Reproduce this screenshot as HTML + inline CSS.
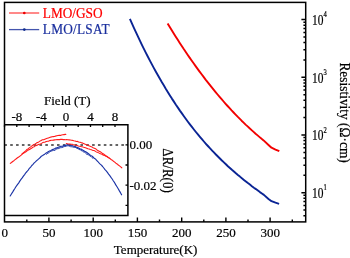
<!DOCTYPE html>
<html><head><meta charset="utf-8"><style>
html,body{margin:0;padding:0;background:#fff;width:350px;height:258px;overflow:hidden;font-family:"Liberation Serif",serif;}
svg{display:block;will-change:transform}
</style></head><body>
<svg width="350" height="258" viewBox="0 0 350 258"><path d="M167.6,23.5 169.6,26.8 171.6,30.1 173.6,33.3 175.6,36.4 177.6,39.6 179.6,42.7 181.6,45.7 183.6,48.8 185.6,51.7 187.6,54.7 189.6,57.6 191.6,60.5 193.6,63.3 195.6,66.1 197.6,68.9 199.6,71.6 201.6,74.3 203.6,76.9 205.6,79.6 207.6,82.1 209.6,84.7 211.6,87.2 213.6,89.7 215.6,92.1 217.6,94.5 219.6,96.9 221.6,99.2 223.6,101.5 225.6,103.8 227.6,106.0 229.6,108.2 231.6,110.4 233.6,112.5 235.6,114.6 237.6,116.7 239.6,118.7 241.6,120.7 243.6,122.6 245.6,124.6 247.6,126.4 249.6,128.3 251.6,130.1 253.6,131.9 255.6,133.7 257.6,135.4 259.6,137.1 261.6,138.8 263.6,140.4 268.5,145.0 271.5,147.7 275.5,149.6 279.3,151.2" fill="none" stroke="#f20000" stroke-width="1.9" stroke-linejoin="round" stroke-linecap="butt"/>
<path d="M129.9,18.8 131.9,23.3 133.9,27.8 135.9,32.1 137.9,36.4 139.9,40.6 141.9,44.8 143.9,48.8 145.9,52.8 147.9,56.7 149.9,60.6 151.9,64.4 153.9,68.1 155.9,71.7 157.9,75.3 159.9,78.8 161.9,82.3 163.9,85.6 165.9,89.0 167.9,92.2 169.9,95.4 171.9,98.6 173.9,101.6 175.9,104.7 177.9,107.6 179.9,110.6 181.9,113.4 183.9,116.2 185.9,119.0 187.9,121.7 189.9,124.3 191.9,126.9 193.9,129.5 195.9,132.0 197.9,134.4 199.9,136.8 201.9,139.2 203.9,141.5 205.9,143.8 207.9,146.0 209.9,148.2 211.9,150.3 213.9,152.4 215.9,154.5 217.9,156.5 219.9,158.5 221.9,160.5 223.9,162.4 225.9,164.3 227.9,166.2 229.9,168.0 231.9,169.8 233.9,171.5 235.9,173.3 237.9,175.0 239.9,176.6 241.9,178.3 243.9,179.9 245.9,181.5 247.9,183.1 249.9,184.6 251.9,186.2 253.9,187.7 255.9,189.1 257.9,190.6 259.9,192.1 261.9,193.5 263.9,194.9 268.5,199.0 271.5,201.2 275.5,202.7 279.1,203.8" fill="none" stroke="#0a2494" stroke-width="1.9" stroke-linejoin="round" stroke-linecap="butt"/>
<line x1="4.5" y1="144.9" x2="127.9" y2="144.9" stroke="#333" stroke-width="1.5" stroke-dasharray="2.6 3.25" stroke-dashoffset="-5.7"/>
<path d="M10.2,196.0 11.4,194.0 12.6,192.1 13.8,190.1 15.0,188.3 16.2,186.3 17.4,184.7 18.6,183.1 19.8,181.1 21.0,179.4 22.2,177.9 23.4,176.2 24.6,174.6 25.8,172.8 27.0,171.5 28.2,170.1 29.4,168.3 30.6,167.1 31.8,165.5 33.0,164.3 34.2,162.9 35.4,161.9 36.6,160.6 37.8,159.7 39.0,158.6 40.2,157.5 41.4,156.2 42.6,155.5 43.8,154.7 45.0,153.9 46.2,152.9 47.4,152.3 48.6,151.5 49.8,150.9 51.0,150.5 52.2,149.6 53.4,149.2 54.6,148.8 55.8,148.1 57.0,147.7 58.2,147.3 59.4,146.9 60.6,146.3 61.8,146.2 63.0,146.1 64.2,145.3 65.4,145.4 66.6,145.0 67.8,144.4 69.0,145.1 70.2,145.2 71.4,145.2 72.6,145.8 73.8,146.2 75.0,146.5 76.2,147.1 77.4,147.5 78.6,148.1 79.8,148.8 81.0,149.1 82.2,149.8 83.4,150.4 84.6,151.2 85.8,151.7 87.0,152.6 88.2,153.4 89.4,154.5 90.6,155.4 91.8,156.0 93.0,157.0 94.2,158.3 95.4,158.9 96.6,160.3 97.8,161.5 99.0,162.9 100.2,164.1 101.4,165.2 102.6,166.5 103.8,168.0 105.0,169.7 106.2,170.9 107.4,172.4 108.6,174.1 109.8,175.7 111.0,177.4 112.2,179.0 113.4,181.0 114.6,182.7 115.8,184.9 117.0,186.8 118.2,188.7 119.4,190.9 120.6,192.9 121.6,194.8" fill="none" stroke="#1b34a6" stroke-width="1.15" stroke-linejoin="round" stroke-linecap="round"/>
<path d="M46.0,154.5 47.0,153.9 48.0,153.1 49.0,152.8 50.0,151.8 51.0,151.1 52.0,151.0 53.0,150.4 54.0,150.3 55.0,150.6 56.0,149.1 57.0,148.8 58.0,148.7 59.0,148.5 60.0,147.9 61.0,147.6 62.0,147.7 63.0,147.3 64.0,146.5 65.0,146.6 66.0,146.4 67.0,145.8 68.0,145.9 69.0,145.8 70.0,146.7 71.0,146.7 72.0,146.9 73.0,147.0 74.0,147.5 75.0,147.2 76.0,147.8 77.0,148.8 78.0,148.3 79.0,149.8 80.0,149.4 81.0,150.7 82.0,150.7 83.0,151.8 84.0,152.1 85.0,152.2 86.0,153.8 87.0,154.5 88.0,154.6 89.0,155.3 90.0,156.0 91.0,156.7 92.0,157.7 93.0,158.4" fill="none" stroke="#1b34a6" stroke-width="0.9" stroke-linejoin="round" opacity="0.9"/>
<path d="M52.0,150.3 53.0,149.8 54.0,149.3 55.0,148.8 56.0,148.9 57.0,148.2 58.0,148.3 59.0,147.5 60.0,146.9 61.0,146.8 62.0,146.4 63.0,146.4 64.0,145.9 65.0,145.7 66.0,145.1 67.0,145.1 68.0,145.7 69.0,145.0 70.0,145.1 71.0,145.9 72.0,146.6 73.0,145.8 74.0,146.6 75.0,146.8 76.0,146.7 77.0,148.1 78.0,148.2 79.0,148.7 80.0,148.9 81.0,149.8 82.0,150.0 83.0,150.7 84.0,151.0 85.0,151.6 86.0,152.7 87.0,153.1 88.0,153.8" fill="none" stroke="#1b34a6" stroke-width="0.7" stroke-linejoin="round" opacity="0.6"/>
<path d="M10.3,163.4 11.5,162.5 12.7,161.5 13.9,160.7 15.1,159.6 16.3,158.7 17.5,157.8 18.7,157.0 19.9,156.1 21.1,155.2 22.3,154.2 23.5,153.2 24.7,152.6 25.9,151.8 27.1,150.9 28.3,150.1 29.5,149.4 30.7,148.7 31.9,148.0 33.1,147.1 34.3,146.7 35.5,145.7 36.7,145.4 37.9,144.8 39.1,144.3 40.3,143.9 41.5,143.4 42.7,142.6 43.9,142.2 45.1,142.1 46.3,141.5 47.5,141.3 48.7,141.1 49.9,140.6 51.1,140.3 52.3,140.3 53.5,140.1 54.7,139.9 55.9,139.8 57.1,139.6 58.3,139.5 59.5,139.6 60.7,139.4 61.9,139.3 63.1,139.6 64.3,139.6 65.5,139.7 66.7,139.6 67.9,139.8 69.1,139.9 70.3,140.0 71.5,140.3 72.7,140.4 73.9,140.8 75.1,141.0 76.3,141.5 77.5,141.4 78.7,142.0 79.9,142.2 81.1,142.6 82.3,142.9 83.5,143.4 84.7,144.0 85.9,144.4 87.1,144.9 88.3,145.4 89.5,146.1 90.7,146.5 91.9,146.9 93.1,147.7 94.3,148.2 95.5,148.7 96.7,149.7 97.9,150.6 99.1,151.2 100.3,151.8 101.5,152.6 102.7,153.6 103.9,154.3 105.1,155.1 106.3,156.0 107.5,156.8 108.7,157.8 109.9,158.6 111.1,159.5 112.3,160.2 113.5,161.3 114.7,162.1 115.9,163.2 117.1,163.9 118.3,165.0 119.5,165.9 120.7,166.9 121.8,167.8" fill="none" stroke="#ff1a1a" stroke-width="1.1" stroke-linejoin="round" stroke-linecap="round"/>
<path d="M22.0,153.9 23.2,152.8 24.4,151.8 25.6,150.8 26.8,149.6 28.0,148.9 29.2,147.9 30.4,147.1 31.6,146.1 32.8,145.3 34.0,144.5 35.2,144.0 36.4,143.1 37.6,142.4 38.8,141.9 40.0,141.1 41.2,140.5 42.4,139.8 43.6,139.7 44.8,139.2 46.0,138.7 47.2,138.3 48.4,137.9 49.6,137.5 50.8,137.1 52.0,136.8 53.2,136.6 54.4,136.5 55.6,136.1 56.8,135.8 58.0,135.5 59.2,135.3 60.4,135.4 61.6,135.0 62.8,134.8 64.0,134.6 65.2,134.4 65.8,134.4" fill="none" stroke="#ff1a1a" stroke-width="1.1" stroke-linejoin="round" stroke-linecap="round"/>
<path d="M66.3,143.6 67.5,143.8 68.7,143.9 69.9,144.1 71.1,144.3 72.3,144.3 73.5,144.7 74.7,144.9 75.9,145.3 77.1,145.4 78.3,145.9 79.5,146.3 80.7,146.4 81.9,146.7 83.1,147.1 84.3,147.4 85.5,147.7 86.7,148.2 87.9,148.8 89.1,149.0 90.3,149.4 91.5,149.7 92.7,150.4 93.9,150.6 95.1,151.1 96.3,151.9 97.5,152.2 98.7,152.9 99.9,153.5 101.1,153.9 102.3,154.5 103.5,155.3 104.7,155.6 105.9,156.2 107.1,156.8 108.3,157.5 109.5,158.1 110.0,158.4" fill="none" stroke="#ff1a1a" stroke-width="1.05" stroke-linejoin="round" stroke-linecap="round"/>
<path d="M4.5,124.7 H127.9 V215.4 H4.5" fill="none" stroke="#000" stroke-width="1.5"/>
<path d="M4.5,124.7V127.1M16.8,124.7V127.1M29.1,124.7V127.1M41.3,124.7V127.1M53.6,124.7V127.1M65.9,124.7V127.1M78.2,124.7V127.1M90.5,124.7V127.1M102.7,124.7V127.1M115.0,124.7V127.1M127.9,144.8H125.5M127.9,165.0H125.5M127.9,185.2H125.5M127.9,205.4H125.5" stroke="#000" stroke-width="1.3"/>
<rect x="4.5" y="2.4" width="301.2" height="219.5" fill="none" stroke="#000" stroke-width="1.5"/>
<path d="M26.8,221.9V219.6M48.9,221.9V217.6M71.1,221.9V219.6M93.2,221.9V217.6M115.3,221.9V219.6M137.4,221.9V217.6M159.5,221.9V219.6M181.7,221.9V217.6M203.8,221.9V219.6M225.9,221.9V217.6M248.0,221.9V219.6M270.1,221.9V217.6M292.3,221.9V219.6" stroke="#000" stroke-width="1.4"/>
<path d="M305.7,215.7H303.4M305.7,210.1H303.4M305.7,205.5H303.4M305.7,201.6H303.4M305.7,198.3H303.4M305.7,195.3H303.4M305.7,192.7H301.4M305.7,175.3H303.4M305.7,165.2H303.4M305.7,158.0H303.4M305.7,152.4H303.4M305.7,147.8H303.4M305.7,143.9H303.4M305.7,140.6H303.4M305.7,137.6H303.4M305.7,135.0H301.4M305.7,117.6H303.4M305.7,107.5H303.4M305.7,100.3H303.4M305.7,94.7H303.4M305.7,90.1H303.4M305.7,86.2H303.4M305.7,82.9H303.4M305.7,79.9H303.4M305.7,77.3H301.4M305.7,59.9H303.4M305.7,49.8H303.4M305.7,42.6H303.4M305.7,37.0H303.4M305.7,32.4H303.4M305.7,28.5H303.4M305.7,25.2H303.4M305.7,22.2H303.4M305.7,19.6H301.4" stroke="#000" stroke-width="1.5"/>
<line x1="9" y1="13.0" x2="39.2" y2="13.0" stroke="#ff4a4a" stroke-width="1.3"/>
<circle cx="24.3" cy="13.0" r="1.35" fill="#ee0000"/>
<line x1="9" y1="29.6" x2="39.2" y2="29.6" stroke="#4455ae" stroke-width="1.3"/>
<circle cx="24.3" cy="29.6" r="1.35" fill="#0d2a8c"/>
<g font-family="'Liberation Serif', serif" font-size="13" fill="#000" stroke="#000" stroke-width="0.2">
<text transform="translate(16.88,121.40)" text-anchor="middle">-8</text>
<text transform="translate(41.44,121.40)" text-anchor="middle">-4</text>
<text transform="translate(66.00,121.40)" text-anchor="middle">0</text>
<text transform="translate(90.56,121.40)" text-anchor="middle">4</text>
<text transform="translate(115.12,121.40)" text-anchor="middle">8</text>
<text transform="translate(67.30,105.10)" text-anchor="middle">Field (T)</text>
<text transform="translate(129.50,149.30)">0.00</text>
<text transform="translate(129.50,189.60)">-0.02</text>
<text transform="translate(162.90,170.50) rotate(90) scale(1.0,1.07)" text-anchor="middle">ΔR/R(0)</text>
<text transform="translate(4.70,237.00)" text-anchor="middle">0</text>
<text transform="translate(48.94,237.00)" text-anchor="middle">50</text>
<text transform="translate(93.18,237.00)" text-anchor="middle">100</text>
<text transform="translate(137.42,237.00)" text-anchor="middle">150</text>
<text transform="translate(181.66,237.00)" text-anchor="middle">200</text>
<text transform="translate(225.90,237.00)" text-anchor="middle">250</text>
<text transform="translate(270.14,237.00)" text-anchor="middle">300</text>
<text transform="translate(155.60,254.20)" text-anchor="middle">Temperature(K)</text>
<text transform="translate(312.00,198.00) scale(0.88,1.08)">10<tspan dy="-7.2" font-size="7.5">1</tspan></text>
<text transform="translate(312.00,140.30) scale(0.88,1.08)">10<tspan dy="-7.2" font-size="7.5">2</tspan></text>
<text transform="translate(312.00,82.60) scale(0.88,1.08)">10<tspan dy="-7.2" font-size="7.5">3</tspan></text>
<text transform="translate(312.00,24.90) scale(0.88,1.08)">10<tspan dy="-7.2" font-size="7.5">4</tspan></text>
<text transform="translate(339.60,112.60) rotate(90) scale(1.0,1.08)" font-size="13.4" text-anchor="middle">Resistivity (Ω·cm)</text>
<text transform="translate(42.80,17.80) scale(1.0,1.1)" font-size="13.3" fill="#ff0000" stroke="#ff0000">LMO/GSO</text>
<text transform="translate(42.80,34.00) scale(1.0,1.06)" font-size="13.3" fill="#1a2f9e" stroke="#1a2f9e" letter-spacing="0.25">LMO/LSAT</text>
</g></svg>
</body></html>
